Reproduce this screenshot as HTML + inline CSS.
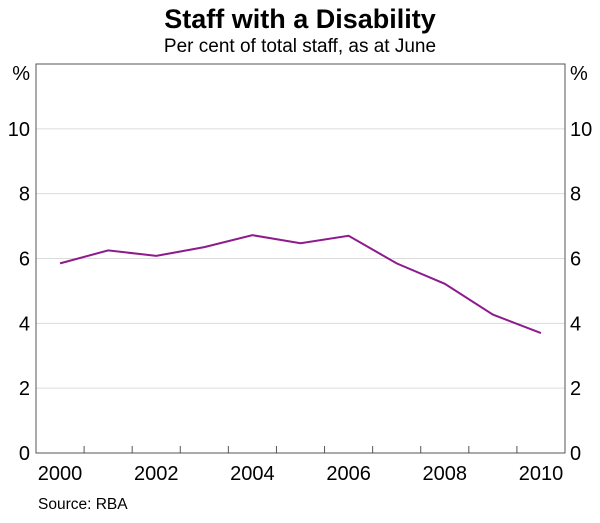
<!DOCTYPE html>
<html><head><meta charset="utf-8"><style>
body{margin:0;background:#fff;}
svg text{font-family:"Liberation Sans",Arial,sans-serif;fill:#000;}
</style></head><body>
<svg id="chart" width="600" height="518">
<text x="300" y="28" text-anchor="middle" font-size="27" font-weight="bold">Staff with a Disability</text>
<text x="300" y="52" text-anchor="middle" font-size="19">Per cent of total staff, as at June</text>
<g id="grid"></g>
<g id="axes"></g>
<g id="series"></g>
<text x="38" y="509" font-size="15.5">Source: RBA</text>
</svg>
<script>
const years=[2000,2001,2002,2003,2004,2005,2006,2007,2008,2009,2010];
const values=[5.85,6.25,6.08,6.35,6.72,6.47,6.7,5.85,5.22,4.27,3.7];
const yTicks=[0,2,4,6,8,10];
const xLabels=["2000","2002","2004","2006","2008","2010"];
const L=36,R=565,T=64,B=453,YMAX=12;
const ns="http://www.w3.org/2000/svg";
const cw=(R-L)/years.length;
const xs=i=>L+cw*(i+0.5);
const ys=v=>B-(v/YMAX)*(B-T);
function mk(tag,attrs,parent,txt){const e=document.createElementNS(ns,tag);for(const k in attrs)e.setAttribute(k,attrs[k]);if(txt!==undefined)e.textContent=txt;document.getElementById(parent).appendChild(e);return e;}
yTicks.forEach(v=>{
 if(v>0){const g=mk('line',{x1:L,x2:R,y1:ys(v),y2:ys(v),stroke:'#dcdcdc','stroke-width':1},'grid');
 
 }
 const a=mk('text',{x:L-6,y:ys(v)+7,'text-anchor':'end','font-size':20},'axes',String(v));
 
 
 const b=mk('text',{x:R+5,y:ys(v)+7,'text-anchor':'start','font-size':20},'axes',String(v));
 
 
});
const p1=mk('text',{x:L-6,y:T+16,'text-anchor':'end','font-size':20},'axes','%');


const p2=mk('text',{x:R+5,y:T+16,'text-anchor':'start','font-size':20},'axes','%');


const frame=mk('rect',{x:L,y:T,width:R-L,height:B-T,fill:'none',stroke:'#555','stroke-width':1},'axes');


for(let i=1;i<years.length;i++){const t=mk('line',{x1:L+cw*i,x2:L+cw*i,y1:B,y2:B-7,stroke:'#555','stroke-width':1},'axes');

}
xLabels.forEach(l=>{const i=years.indexOf(+l);const t=mk('text',{x:xs(i),y:B+27,'text-anchor':'middle','font-size':20},'axes',l);

});
const pl=mk('polyline',{points:values.map((v,i)=>xs(i)+','+ys(v)).join(' '),fill:'none',stroke:'#8e1b8c','stroke-width':2},'series');


</script>
</body></html>
